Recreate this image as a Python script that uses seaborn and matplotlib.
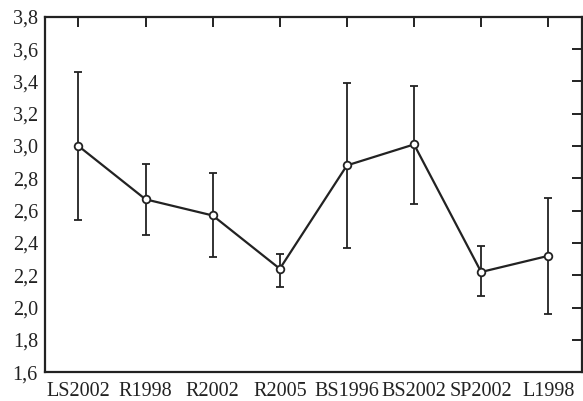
import matplotlib
matplotlib.use("Agg")
import matplotlib.pyplot as plt
import seaborn as sns
import pandas as pd
from matplotlib.ticker import FuncFormatter

categories = ["LS2002", "R1998", "R2002", "R2005", "BS1996", "BS2002", "SP2002", "L1998"]
means = [3.00, 2.67, 2.57, 2.24, 2.88, 3.01, 2.22, 2.32]
upper = [3.46, 2.89, 2.83, 2.33, 3.39, 3.37, 2.38, 2.68]
lower = [2.54, 2.45, 2.31, 2.13, 2.37, 2.64, 2.07, 1.96]
yticks = [1.6, 1.8, 2.0, 2.2, 2.4, 2.6, 2.8, 3.0, 3.2, 3.4, 3.6, 3.8]

sns.set_style("white")
plt.rcParams["font.family"] = ["Liberation Serif", "DejaVu Serif"]

df = pd.DataFrame({"cat": categories, "mean": means, "lo": lower, "hi": upper})
df["x"] = range(len(df))

fig = plt.figure(figsize=(5.83, 4.01), dpi=100)
ax = fig.add_axes([0.077, 0.072, 0.921, 0.886])

ax.errorbar(df["x"], df["mean"],
            yerr=[df["mean"] - df["lo"], df["hi"] - df["mean"]],
            fmt="none", ecolor="#222222", elinewidth=1.3, capsize=3.2, capthick=1.3, zorder=2)
sns.lineplot(data=df, x="x", y="mean", ax=ax, color="#222222", linewidth=1.6,
             marker="o", markersize=5.5, markerfacecolor="white",
             markeredgecolor="#222222", markeredgewidth=1.3, zorder=3)

ax.set_xlim(-0.5, 7.5)
ax.set_ylim(1.6, 3.8)
ax.set_xticks(df["x"])
ax.set_xticklabels(categories)
ax.set_yticks(yticks)
ax.yaxis.set_major_formatter(FuncFormatter(lambda v, p: f"{v:.1f}".replace(".", ",")))
ax.set_xlabel("")
ax.set_ylabel("")
ax.tick_params(direction="in", length=7, width=1.4, top=True, right=True,
               labelsize=14.5, colors="#222222")
ax.tick_params(axis="y", pad=5)
ax.tick_params(axis="x", pad=7)
for s in ax.spines.values():
    s.set_linewidth(1.6)
    s.set_color("#222222")

fig.savefig("out.png", dpi=100)
